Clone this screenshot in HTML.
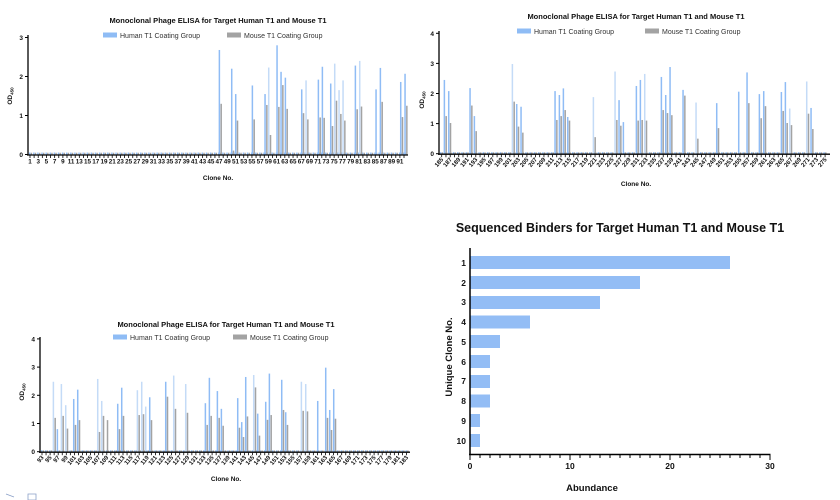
<!DOCTYPE html>
<html><head><meta charset="utf-8"><style>
body{margin:0;background:#fff;width:840px;height:500px;overflow:hidden;font-family:"Liberation Sans",sans-serif}
svg{position:absolute;left:0;top:0}
</style></head><body>
<svg id="s" width="840" height="500" xmlns="http://www.w3.org/2000/svg" font-family="Liberation Sans, sans-serif">
<!-- Chart 4 static -->
<g>
<text x="620" y="232" font-size="12.5" font-weight="bold" text-anchor="middle" fill="#111">Sequenced Binders for Target Human T1 and Mouse T1</text>
<g fill="#93bdf5">
<rect x="470" y="256" width="260" height="13"/>
<rect x="470" y="276" width="170" height="13"/>
<rect x="470" y="296" width="130" height="13"/>
<rect x="470" y="315.5" width="60" height="13"/>
<rect x="470" y="335" width="30" height="13"/>
<rect x="470" y="355" width="20" height="13"/>
<rect x="470" y="375" width="20" height="13"/>
<rect x="470" y="394.5" width="20" height="13"/>
<rect x="470" y="414" width="10" height="13"/>
<rect x="470" y="434" width="10" height="13"/>
</g>
<line x1="470" y1="248" x2="470" y2="455" stroke="#000" stroke-width="1.5"/>
<line x1="469" y1="454.5" x2="770.5" y2="454.5" stroke="#000" stroke-width="1.5"/>
<g id="t4"></g>
<g font-size="8.5" font-weight="bold" text-anchor="end" fill="#111">
<text x="466" y="266">1</text><text x="466" y="286">2</text><text x="466" y="305">3</text><text x="466" y="325">4</text><text x="466" y="345">5</text><text x="466" y="365">6</text><text x="466" y="384">7</text><text x="466" y="404">8</text><text x="466" y="424">9</text><text x="466" y="444">10</text>
</g>
<g font-size="8.5" font-weight="bold" text-anchor="middle" fill="#111">
<text x="470" y="469">0</text><text x="570" y="469">10</text><text x="670" y="469">20</text><text x="770" y="469">30</text>
</g>
<text x="592" y="491" font-size="9.5" font-weight="bold" text-anchor="middle" fill="#111">Abundance</text>
<text transform="translate(452,357) rotate(-90)" font-size="9.5" font-weight="bold" text-anchor="middle" fill="#111">Unique Clone No.</text>
</g>
<g id="c"></g>
<g stroke="#8aa0c8" fill="none" stroke-width="0.8"><path d="M6 494 L14 497 M28 494 h8 v6 h-8z"/></g>
</svg>
<script>
var NS="http://www.w3.org/2000/svg",C=document.getElementById('c');
function el(t,a,txt){var e=document.createElementNS(NS,t);for(var k in a)e.setAttribute(k,a[k]);if(txt!==undefined)e.textContent=txt;C.appendChild(e);return e;}
var t4=document.getElementById('t4');
for(var i=0;i<=30;i++){var e=document.createElementNS(NS,'line');var x=470+i*10;e.setAttribute('x1',x);e.setAttribute('x2',x);e.setAttribute('y1',455);e.setAttribute('y2',i%10?458:460);e.setAttribute('stroke','#000');t4.appendChild(e);}
var BL='#8fbcf5',GR='#a3a3a3';
function chart(o){
 // baseline bars
 for(var x=o.x0+1;x<o.xend-3;x+=o.gw){el('rect',{x:x,y:o.y0-0.05*o.k,width:1.4,height:0.05*o.k,fill:BL});el('rect',{x:x+1.7,y:o.y0-0.045*o.k,width:1.4,height:0.045*o.k,fill:GR});}
 o.d.forEach(function(p){var x=p[0]/3+o.ox;
  if(p[1])el('rect',{x:x-0.7,y:o.y0-p[1]*o.k,width:1.5,height:p[1]*o.k,fill:p[3]?'#c4dbf7':BL});
  if(p[2])el('rect',{x:x+1.1,y:o.y0-p[2]*o.k,width:1.5,height:p[2]*o.k,fill:GR});});
 el('line',{x1:o.ax,y1:o.ytop-2,x2:o.ax,y2:o.y0+1,stroke:'#000','stroke-width':1.3});
 el('line',{x1:o.ax-1,y1:o.y0+0.5,x2:o.xend,y2:o.y0+0.5,stroke:'#000','stroke-width':1.3});
 for(var v=0;v<=o.ymax;v++){var y=o.y0-v*o.k;el('line',{x1:o.ax-3,y1:y,x2:o.ax,y2:y,stroke:'#000'});el('text',{x:o.ax-5,y:y+2.5,'font-size':6.5,'font-weight':'bold','text-anchor':'end',fill:'#111'},v);}
 var n=0;for(var x=o.lx0;x<=o.xend-2;x+=o.gw){el('line',{x1:x,y1:o.y0+1,x2:x,y2:o.y0+3.5,stroke:'#000','stroke-width':0.8});
  if(n%2==0){var lab=o.c0+n;if(o.rot)el('text',{transform:'translate('+(x+2)+','+(o.y0+6)+') rotate(-50)','font-size':6,'font-weight':'bold','text-anchor':'end',fill:'#111'},lab);
   else el('text',{x:x,y:o.y0+9,'font-size':6.3,'font-weight':'bold','text-anchor':'middle',fill:'#111'},lab);}n++;}
 el('text',{x:o.tx,y:o.ty,'font-size':7.5,'font-weight':'bold','text-anchor':'middle',fill:'#111'},'Monoclonal Phage ELISA for Target Human T1 and Mouse T1');
 el('rect',{x:o.lb,y:o.ly-3.5,width:14,height:5,fill:BL});el('text',{x:o.lb+17,y:o.ly+2,'font-size':7,fill:'#333'},'Human T1 Coating Group');
 el('rect',{x:o.lg,y:o.ly-3.5,width:14,height:5,fill:GR});el('text',{x:o.lg+17,y:o.ly+2,'font-size':7,fill:'#333'},'Mouse T1 Coating Group');
 el('text',{x:o.tx,y:o.xly,'font-size':6.5,'font-weight':'bold','text-anchor':'middle',fill:'#111'},'Clone No.');
 var yl=el('text',{transform:'translate('+o.ylx+','+o.yly+') rotate(-90)','font-size':6.5,'font-weight':'bold','text-anchor':'middle',fill:'#111'},'OD');
 var ts=document.createElementNS(NS,'tspan');ts.setAttribute('font-size',4.5);ts.setAttribute('dy',1.5);ts.textContent='450';yl.appendChild(ts);
}
chart({ox:0,x0:28,xend:408,gw:4.11,y0:154.5,k:39,ymax:3,ytop:37,ax:28,lx0:30,c0:1,rot:false,tx:218,ty:23,ly:36,lb:103,lg:227,xly:180,ylx:12,yly:96,
d:[[658,2.68,1.3],[695,2.2,0.1],[707,1.55,0.87],[757,1.77,0.9],[795,1.55,1.27],[806,2.23,0.5,1],[831,2.8,1.22],[843,2.12,1.78],[856,1.97,1.17],[905,1.67,1.06],[918,1.9,0.9,1],[955,1.92,0.95],[967,2.25,0.94],[992,1.82,0.73],[1004,2.33,1.38,1],[1017,1.65,1.04,1],[1029,1.9,0.87,1],[1066,2.28,1.16],[1079,2.4,1.23,1],[1128,1.67,0],[1141,2.22,1.35],[1202,1.86,0.96],[1215,2.07,1.25]]});
chart({ox:420,x0:439,xend:830,gw:4.26,y0:153.7,k:30.1,ymax:4,ytop:33,ax:439,lx0:441.7,c0:185,rot:true,tx:636,ty:19,ly:32,lb:517,lg:645,xly:186,ylx:424,yly:100,
d:[[73,2.45,1.25],[86,2.08,1.02],[150,2.18,1.6],[163,1.25,0.75],[277,2.98,1.73,1],[290,1.65,0.9],[303,1.56,0.7],[405,2.08,1.12],[418,1.95,1.25],[430,2.17,1.45],[443,1.22,1.1],[520,1.88,0.55,1],[585,2.73,1.12,1],[597,1.78,0.93],[610,1.05,0],[649,2.25,1.1],[661,2.45,1.12],[674,2.65,1.1,1],[724,2.55,1.45],[737,1.95,1.35],[750,2.88,1.28],[789,2.12,1.93],[828,1.7,0.5,1],[890,1.68,0.85],[956,2.06,0],[981,2.7,1.68],[1018,1.98,1.18],[1031,2.08,1.58],[1084,2.05,1.42],[1096,2.38,1.02],[1109,1.5,0.95,1],[1160,2.4,1.33,1],[1173,1.52,0.82]]});
chart({ox:0,x0:40,xend:410,gw:4.05,y0:451.7,k:28.2,ymax:4,ytop:339,ax:40,lx0:42,c0:93,rot:true,tx:226,ty:327,ly:338,lb:113,lg:233,xly:481,ylx:24,yly:392,
d:[[160,2.48,1.2,1],[172,0.8,0],[184,2.4,1.27,1],[197,1.65,0.82,1],[221,1.87,0.95],[233,2.2,1.12],[293,2.58,0.7,1],[305,1.8,1.27,1],[317,0,1.12],[353,1.7,0.8],[365,2.27,1.27],[412,2.18,1.3,1],[425,2.48,1.33,1],[437,1.6,0,1],[449,1.93,1.12],[497,2.48,1.95],[521,2.7,1.52,1],[557,2.4,1.38,1],[616,1.72,0.95],[628,2.62,1.27],[652,2.15,1.2],[664,1.52,0.92],[713,1.9,0.85],[725,1.05,0.52],[737,2.65,1.25],[761,2.72,2.28,1],[773,1.35,0.57],[797,1.77,1.13],[808,2.77,1.3],[845,2.55,1.48],[857,1.4,0.95],[904,2.48,1.45,1],[917,2.4,1.43,1],[953,1.8,0],[977,2.98,1.2],[989,1.48,0.77],[1001,2.22,1.17]]});
</script>
</body></html>
